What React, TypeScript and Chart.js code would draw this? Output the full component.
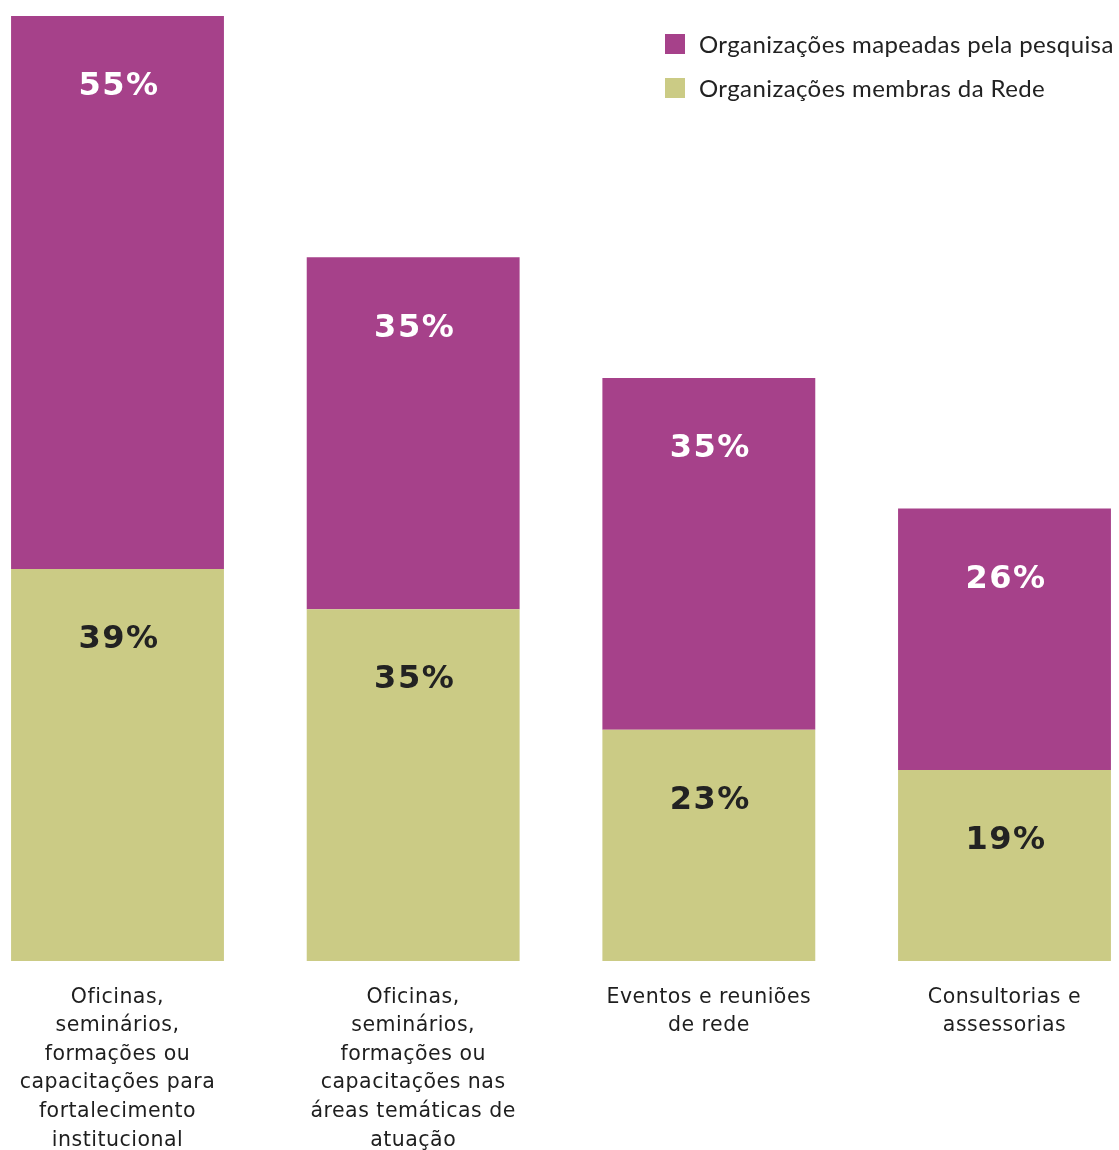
import React, { useEffect, useRef } from "react";
import { Chart, registerables } from "chart.js";

Chart.register(...registerables);

const categories: string[][] = [
  ["Oficinas,", "seminários,", "formações ou", "capacitações para", "fortalecimento", "institucional"],
  ["Oficinas,", "seminários,", "formações ou", "capacitações nas", "áreas temáticas de", "atuação"],
  ["Eventos e reuniões", "de rede"],
  ["Consultorias e", "assessorias"],
];

const seriesNames = ["Organizações membras da Rede", "Organizações mapeadas pela pesquisa"];
const membrasValues = [39, 35, 23, 19];
const mapeadasValues = [55, 35, 35, 26];

const OLIVE = "#cbcb85";
const PURPLE = "#a6418a";

const spacingPlugin = {
  id: "tickSpacing",
  beforeDraw(chart: any) {
    (chart.ctx as any).letterSpacing = "0.5px";
  },
  afterDraw(chart: any) {
    (chart.ctx as any).letterSpacing = "0px";
  },
};

const labelPlugin = {
  id: "barLabels",
  afterDatasetsDraw(chart: any) {
    const ctx = chart.ctx;
    ctx.save();
    ctx.font = "bold 32px 'DejaVu Sans'";
    (ctx as any).letterSpacing = "1.5px";
    ctx.textAlign = "center";
    ctx.textBaseline = "middle";
    chart.data.datasets.forEach((ds: any, di: number) => {
      const meta = chart.getDatasetMeta(di);
      meta.data.forEach((el: any, i: number) => {
        const top = Math.min(el.y, el.base);
        ctx.fillStyle = di === 0 ? "#222222" : "#ffffff";
        ctx.fillText(ds.data[i] + "%", el.x + 1.5, top + 71);
      });
    });
    ctx.restore();
  },
};

const legendPlugin = {
  id: "customLegend",
  afterDraw(chart: any) {
    const ctx = chart.ctx;
    ctx.save();
    ctx.font = "24px Lato";
    (ctx as any).letterSpacing = "0.4px";
    ctx.textAlign = "left";
    ctx.textBaseline = "middle";
    const order = [1, 0];
    order.forEach((di, row) => {
      const ds = chart.data.datasets[di];
      const y = 44 + row * 44;
      ctx.fillStyle = ds.backgroundColor;
      ctx.fillRect(665, y - 10, 20, 20);
      ctx.fillStyle = "#222222";
      ctx.fillText(ds.label, 699, y + 1);
    });
    ctx.restore();
  },
};

export default function App() {
  const ref = useRef<HTMLCanvasElement>(null);
  useEffect(() => {
    if (!ref.current) return;
    const chart = new Chart(ref.current, {
      type: "bar",
      data: {
        labels: categories,
        datasets: [
          { label: seriesNames[0], data: membrasValues, backgroundColor: OLIVE, clip: false as any },
          { label: seriesNames[1], data: mapeadasValues, backgroundColor: PURPLE, clip: false as any },
        ],
      },
      options: {
        responsive: false,
        animation: false,
        layout: { padding: { left: 117.5, right: 114.5, top: 16, bottom: 0 } },
        datasets: { bar: { categoryPercentage: 1, barPercentage: 0.72 } },
        plugins: { legend: { display: false }, tooltip: { enabled: false } },
        scales: {
          x: {
            type: "category",
            offset: false,
            stacked: true,
            grid: { display: false, drawTicks: false },
            border: { display: false },
            ticks: {
              color: "#1e1e1e",
              font: { family: "'DejaVu Sans'", size: 20.5, lineHeight: 1.395 },
              padding: 22,
              maxRotation: 0,
              autoSkip: false,
            },
            afterFit: (scale: any) => {
              scale.height = 189;
            },
          },
          y: {
            stacked: true,
            display: false,
            min: 0,
            max: 94,
          },
        },
      },
      plugins: [spacingPlugin, labelPlugin, legendPlugin],
    });
    return () => chart.destroy();
  }, []);
  return (
    <div style={{ position: "absolute", left: 0, top: 0, width: 1119, height: 1150, background: "#fff" }}>
      <canvas ref={ref} width={1119} height={1150} />
    </div>
  );
}
